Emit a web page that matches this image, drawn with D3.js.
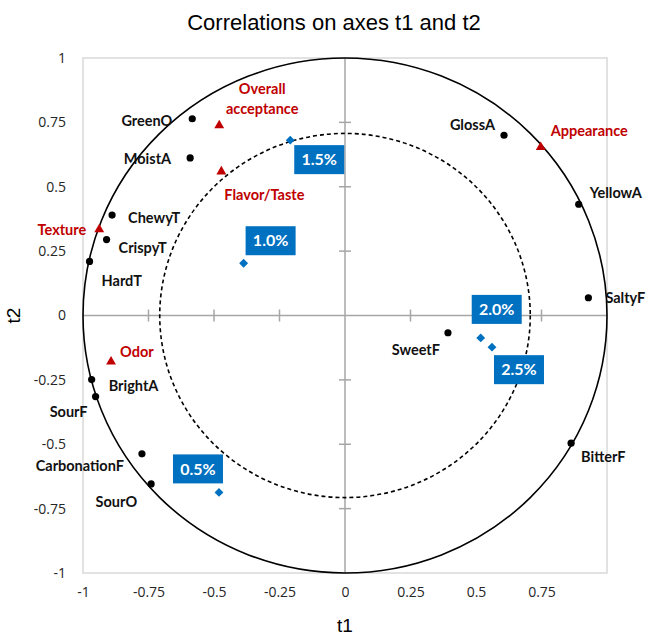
<!DOCTYPE html>
<html>
<head>
<meta charset="utf-8">
<script src="https://cdn.jsdelivr.net/npm/d3@7"></script>
<style>
  html, body { margin: 0; padding: 0; background: #fff; }
  svg { display: block; }
</style>
</head>
<body>
<svg id="chart" width="648" height="635"></svg>
<script>
// Variable correlations with the first two factors (t1, t2)
const varNames = ["GreenO", "MoistA", "ChewyT", "CrispyT", "HardT", "GlossA", "YellowA",
  "SaltyF", "SweetF", "BitterF", "BrightA", "SourF", "CarbonationF", "SourO"];
const varT1 = [-0.583, -0.591, -0.889, -0.910, -0.975, 0.607, 0.892,
  0.929, 0.393, 0.863, -0.967, -0.952, -0.775, -0.740];
const varT2 = [0.764, 0.612, 0.390, 0.295, 0.210, 0.700, 0.432,
  0.069, -0.067, -0.496, -0.249, -0.315, -0.537, -0.654];

// Supplementary (hedonic) variables
const supNames = ["Overall acceptance", "Flavor/Taste", "Texture", "Appearance", "Odor"];
const supT1 = [-0.480, -0.472, -0.938, 0.747, -0.893];
const supT2 = [0.738, 0.559, 0.334, 0.654, -0.179];

// Supplementary observations (formulation levels)
const obsNames = ["0.5%", "1.0%", "1.5%", "2.0%", "2.5%"];
const obsT1 = [-0.481, -0.387, -0.209, 0.518, 0.561];
const obsT2 = [-0.687, 0.203, 0.681, -0.087, -0.123];

const tickValues = [-1, -0.75, -0.5, -0.25, 0, 0.25, 0.5, 0.75, 1];
const xTickLabels = ["-1", "-0.75", "-0.5", "-0.25", "0", "0.25", "0.5", "0.75", ""];
const yTickLabels = ["-1", "-0.75", "-0.5", "-0.25", "0", "0.25", "0.5", "0.75", "1"];

// Radii of the reference circles (full correlation and 50% explained variance)
const circleRadii = [1, Math.SQRT1_2];

// Label placement around each marker (pixel offsets)
const varLabelPos = {
  GreenO: ["end", -20, 2], MoistA: ["end", -19, 1], ChewyT: ["start", 16, 3],
  CrispyT: ["start", 12, 8], HardT: ["start", 12, 19], GlossA: ["end", -9, -10],
  YellowA: ["start", 11, -11], SaltyF: ["start", 17, 0], SweetF: ["end", -8, 17],
  BitterF: ["start", 10, 14], BrightA: ["start", 17, 6], SourF: ["end", -8, 15],
  CarbonationF: ["end", -18, 12], SourO: ["end", -14, 18]
};
const supLabelPos = {
  "Overall acceptance": ["middle", 43, -37], "Flavor/Taste": ["start", 3, 23],
  "Texture": ["end", -13, 0], "Appearance": ["start", 10, -16], "Odor": ["start", 9, -10]
};
const obsBoxPos = {
  "0.5%": [-46, -38], "1.0%": [2, -37], "1.5%": [4, 5], "2.0%": [-9, -43], "2.5%": [2, 8]
};

const svg = d3.select("#chart");
const x = d3.scaleLinear().domain([-1, 1]).range([83, 607]);
const y = d3.scaleLinear().domain([-1, 1]).range([573, 58]);

const RED = "#c00000", BLUE = "#0070c0";
const labelFont = "Lato, 'Open Sans', sans-serif";
const labelSize = 14.5;

// Title
svg.append("text")
  .attr("x", 334).attr("y", 30)
  .attr("text-anchor", "middle")
  .attr("font-family", "'Liberation Sans', Arial, sans-serif")
  .attr("font-size", 22)
  .attr("fill", "#000")
  .text("Correlations on axes t1 and t2");

// Plot frame
svg.append("rect")
  .attr("x", x(-1)).attr("y", y(1))
  .attr("width", x(1) - x(-1)).attr("height", y(-1) - y(1))
  .attr("fill", "none").attr("stroke", "#d9d9d9").attr("stroke-width", 1.5);

// Zero axes with cross ticks
const axisColor = "#a6a6a6";
svg.append("line")
  .attr("x1", x(-1)).attr("x2", x(1)).attr("y1", y(0)).attr("y2", y(0))
  .attr("stroke", axisColor).attr("stroke-width", 1.5);
svg.append("line")
  .attr("x1", x(0)).attr("x2", x(0)).attr("y1", y(1)).attr("y2", y(-1))
  .attr("stroke", axisColor).attr("stroke-width", 1.5);

const innerTicks = tickValues.filter(v => v !== 0 && Math.abs(v) !== 1);
svg.append("g").selectAll("line").data(innerTicks).join("line")
  .attr("x1", d => x(d)).attr("x2", d => x(d))
  .attr("y1", y(0) - 6).attr("y2", y(0) + 6)
  .attr("stroke", axisColor).attr("stroke-width", 1.5);
svg.append("g").selectAll("line").data(innerTicks).join("line")
  .attr("y1", d => y(d)).attr("y2", d => y(d))
  .attr("x1", x(0) - 6).attr("x2", x(0) + 6)
  .attr("stroke", axisColor).attr("stroke-width", 1.5);

// Tick labels via d3 axes (domain and tick lines hidden)
const xAxis = d3.axisBottom(x).tickValues(tickValues)
  .tickFormat((d, i) => xTickLabels[i]).tickSize(0).tickPadding(0);
const gx = svg.append("g").attr("transform", `translate(0,${y(-1) + 19})`).call(xAxis);
const yAxis = d3.axisLeft(y).tickValues(tickValues)
  .tickFormat((d, i) => yTickLabels[i]).tickSize(0).tickPadding(0);
const gy = svg.append("g").attr("transform", `translate(${x(-1) - 17},0)`).call(yAxis);
[gx, gy].forEach(g => {
  g.select(".domain").remove();
  g.selectAll("text")
    .attr("font-family", "'Open Sans', sans-serif")
    .attr("font-size", 14)
    .attr("fill", "#262626");
});
gx.selectAll("text").attr("dy", "0.35em").attr("y", 0);

// Axis titles
svg.append("text")
  .attr("x", x(0)).attr("y", 632)
  .attr("text-anchor", "middle")
  .attr("font-family", "'Liberation Sans', Arial, sans-serif")
  .attr("font-size", 19).text("t1");
svg.append("text")
  .attr("transform", `translate(20,${y(0)}) rotate(-90)`)
  .attr("text-anchor", "middle")
  .attr("font-family", "'Liberation Sans', Arial, sans-serif")
  .attr("font-size", 19).text("t2");

// Correlation circles (outer solid, inner dashed)
svg.append("g").selectAll("ellipse").data(circleRadii).join("ellipse")
  .attr("cx", x(0)).attr("cy", y(0))
  .attr("rx", r => x(r) - x(0)).attr("ry", r => y(0) - y(r))
  .attr("fill", "none").attr("stroke", "#000").attr("stroke-width", 1.6)
  .attr("stroke-dasharray", (r, i) => i === 0 ? null : "4,3");

// Active variables: black dots
const vars = varNames.map((n, i) => ({ name: n, t1: varT1[i], t2: varT2[i] }));
svg.append("g").selectAll("circle").data(vars).join("circle")
  .attr("cx", d => x(d.t1)).attr("cy", d => y(d.t2)).attr("r", 3.6)
  .attr("fill", "#000");
svg.append("g").selectAll("text").data(vars).join("text")
  .attr("x", d => x(d.t1) + varLabelPos[d.name][1])
  .attr("y", d => y(d.t2) + varLabelPos[d.name][2])
  .attr("dy", "0.35em")
  .attr("text-anchor", d => varLabelPos[d.name][0])
  .attr("font-family", labelFont).attr("font-weight", 700).attr("font-size", labelSize)
  .attr("fill", "#111")
  .text(d => d.name);

// Supplementary variables: red triangles
const sups = supNames.map((n, i) => ({ name: n, t1: supT1[i], t2: supT2[i] }));
const tri = d3.symbol().type(d3.symbolTriangle).size(42);
svg.append("g").selectAll("path").data(sups).join("path")
  .attr("d", tri)
  .attr("transform", d => `translate(${x(d.t1)},${y(d.t2)})`)
  .attr("fill", RED);
const supText = svg.append("g").selectAll("text").data(sups).join("text")
  .attr("y", d => y(d.t2) + supLabelPos[d.name][2])
  .attr("text-anchor", d => supLabelPos[d.name][0])
  .attr("font-family", labelFont).attr("font-weight", 700).attr("font-size", labelSize)
  .attr("fill", RED);
supText.each(function (d) {
  const words = d.name === "Overall acceptance" ? ["Overall", "acceptance"] : [d.name];
  const t = d3.select(this);
  words.forEach((w, k) => {
    t.append("tspan")
      .attr("x", x(d.t1) + supLabelPos[d.name][1])
      .attr("dy", k === 0 ? "0.35em" : "20px")
      .text(w);
  });
});

// Supplementary observations: blue diamonds with boxed labels
const obs = obsNames.map((n, i) => ({ name: n, t1: obsT1[i], t2: obsT2[i] }));
const diamond = d3.symbol().type(d3.symbolDiamond2).size(50);
svg.append("g").selectAll("path").data(obs).join("path")
  .attr("d", diamond)
  .attr("transform", d => `translate(${x(d.t1)},${y(d.t2)})`)
  .attr("fill", BLUE);
const boxW = 50, boxH = 29;
const boxes = svg.append("g").selectAll("g").data(obs).join("g")
  .attr("transform", d => `translate(${x(d.t1) + obsBoxPos[d.name][0]},${y(d.t2) + obsBoxPos[d.name][1]})`);
boxes.append("rect")
  .attr("width", boxW).attr("height", boxH).attr("fill", BLUE);
boxes.append("text")
  .attr("x", boxW / 2).attr("y", boxH / 2).attr("dy", "0.36em")
  .attr("text-anchor", "middle")
  .attr("font-family", labelFont).attr("font-weight", 700).attr("font-size", 16)
  .attr("fill", "#fff")
  .text(d => d.name);
</script>
</body>
</html>
